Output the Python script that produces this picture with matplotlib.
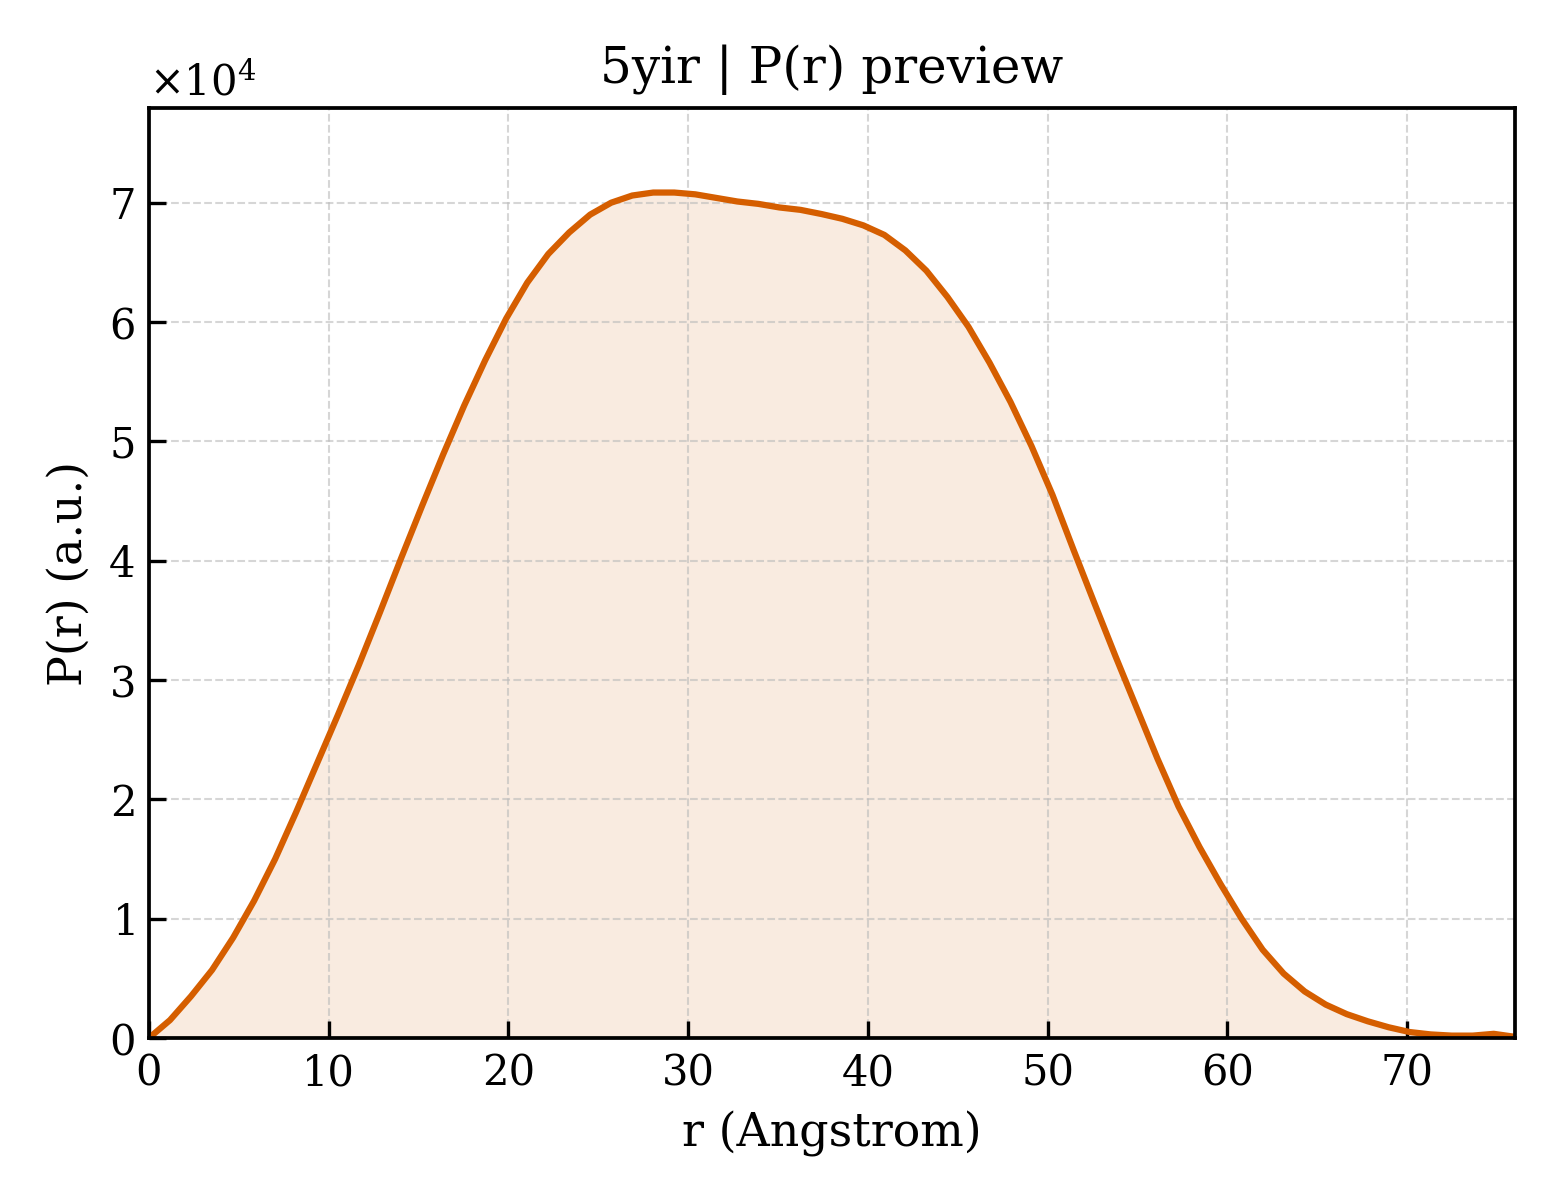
import matplotlib
matplotlib.use("Agg")
import matplotlib.pyplot as plt
import numpy as np

plt.rcParams["font.family"] = "DejaVu Serif"
plt.rcParams["mathtext.fontset"] = "dejavuserif"

r = [0.00, 1.17, 2.34, 3.51, 4.68, 5.85, 7.02, 8.18, 9.35, 10.52,
     11.69, 12.86, 14.03, 15.20, 16.37, 17.54, 18.71, 19.88, 21.05, 22.22,
     23.38, 24.55, 25.72, 26.89, 28.06, 29.23, 30.40, 31.57, 32.74, 33.91,
     35.08, 36.25, 37.42, 38.58, 39.75, 40.92, 42.09, 43.26, 44.43, 45.60,
     46.77, 47.94, 49.11, 50.28, 51.45, 52.62, 53.78, 54.95, 56.12, 57.29,
     58.46, 59.63, 60.80, 61.97, 63.14, 64.31, 65.48, 66.65, 67.82, 68.98,
     70.15, 71.32, 72.49, 73.66, 74.83, 76.00]
pr = [0.00, 0.15, 0.35, 0.57, 0.84, 1.15, 1.50, 1.89, 2.30, 2.71,
      3.13, 3.57, 4.02, 4.46, 4.89, 5.30, 5.68, 6.03, 6.33, 6.57,
      6.75, 6.90, 7.00, 7.06, 7.085, 7.085, 7.07, 7.04, 7.01, 6.99,
      6.96, 6.94, 6.905, 6.865, 6.81, 6.73, 6.60, 6.43, 6.21, 5.96,
      5.66, 5.33, 4.96, 4.55, 4.09, 3.64, 3.20, 2.77, 2.34, 1.94,
      1.60, 1.29, 1.00, 0.74, 0.54, 0.39, 0.28, 0.20, 0.14, 0.09,
      0.05, 0.03, 0.02, 0.02, 0.035, 0.01]

r = np.array(r)
pr = np.array(pr) * 1e4

color = "#D55E00"

fig = plt.figure(figsize=(5.2, 4), dpi=300)
ax = fig.add_axes([0.0955, 0.135, 0.8755, 0.775])

ax.fill_between(r, pr, 0, color=color, alpha=0.12, linewidth=0)
ax.plot(r, pr, color=color, lw=1.5)

ax.set_xlim(0, 76)
ax.set_ylim(0, pr.max() * 1.1)
ax.set_xticks(np.arange(0, 80, 10))

ax.ticklabel_format(axis="y", style="sci", scilimits=(0, 0), useMathText=True)
ax.grid(True, ls="--", lw=0.5, color="#bbbbbb", alpha=0.6)
ax.tick_params(direction="in", length=4, width=0.8, labelsize=10)
for s in ax.spines.values():
    s.set_linewidth(0.9)

ax.set_xlabel("r (Angstrom)", fontsize=11)
ax.set_ylabel("P(r) (a.u.)", fontsize=11)
ax.set_title("5yir | P(r) preview", fontsize=12)

fig.savefig("out.png", dpi=300)
